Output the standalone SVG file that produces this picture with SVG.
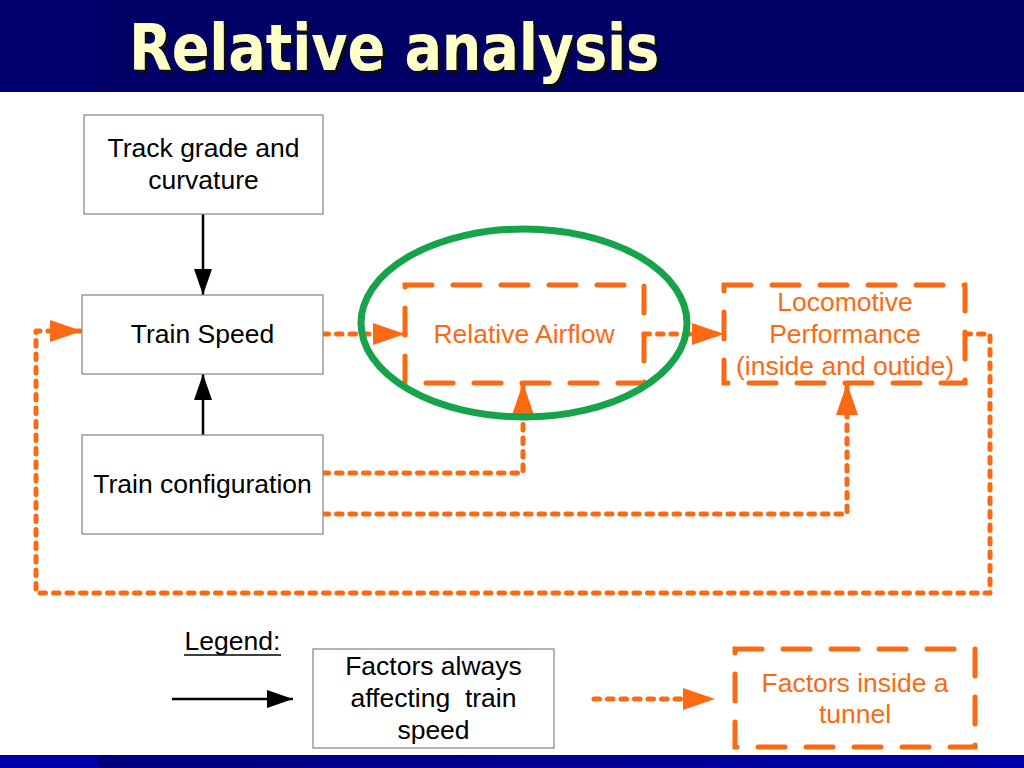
<svg xmlns="http://www.w3.org/2000/svg" width="1024" height="768" viewBox="0 0 1024 768">
<defs>
<style>
.box{fill:#fff;stroke:#8c8c8c;stroke-width:1.3}
.t{font-family:"Liberation Sans",Arial,sans-serif;font-size:26.5px;text-anchor:middle;fill:#000}
.o{fill:#fb6a12}
.dash{fill:none;stroke:#fb6a12;stroke-width:5;stroke-dasharray:27 21;stroke-linecap:round}
.dot{fill:none;stroke:#fb6a12;stroke-width:5;stroke-dasharray:5.5 8;stroke-linecap:round;stroke-linejoin:round}
.solid{fill:none;stroke:#000;stroke-width:2.5}
</style>
<marker id="ao" markerUnits="userSpaceOnUse" markerWidth="34" markerHeight="24" refX="32" refY="11" orient="auto" viewBox="0 0 34 24">
<path d="M0,0 L32,11 L0,22 z" fill="#fb6a12"/>
</marker>
<marker id="ab" markerUnits="userSpaceOnUse" markerWidth="28" markerHeight="20" refX="26" refY="9" orient="auto" viewBox="0 0 28 20">
<path d="M0,0 L26,9 L0,18 z" fill="#000"/>
</marker>
<linearGradient id="foot" x1="0" y1="0" x2="1" y2="0">
<stop offset="0" stop-color="#00007a"/>
<stop offset="1" stop-color="#0000a8"/>
</linearGradient>
<filter id="shadow" x="-5%" y="-20%" width="110%" height="140%">
<feDropShadow dx="3" dy="3" stdDeviation="0.6" flood-color="#111111" flood-opacity="1"/>
</filter>
</defs>
<rect width="1024" height="768" fill="#fff"/>
<g id="header">
<rect x="0" y="0" width="1024" height="92" fill="#000066"/>
<rect x="0" y="0" width="98" height="92" fill="#00006e"/>
<text x="129" y="70" font-family="'DejaVu Sans',Verdana,sans-serif" font-weight="bold" font-size="64" fill="#ffffc8" textLength="530" lengthAdjust="spacingAndGlyphs" filter="url(#shadow)">Relative analysis</text>
</g>
<g id="footer">
<rect x="0" y="755" width="1024" height="13" fill="url(#foot)"/>
<rect x="0" y="755" width="98" height="13" fill="#0000a8"/>
</g>
<g id="connectors">
<line class="solid" x1="203" y1="214" x2="203" y2="295" marker-end="url(#ab)"/>
<line class="solid" x1="203" y1="435" x2="203" y2="374" marker-end="url(#ab)"/>
<line class="dot" x1="323" y1="334" x2="405" y2="334" marker-end="url(#ao)"/>
<line class="dot" x1="644" y1="334" x2="724" y2="334" marker-end="url(#ao)"/>
<polyline class="dot" points="323,473 523,473 523,383" marker-end="url(#ao)"/>
<polyline class="dot" points="323,514 847,514 847,383" marker-end="url(#ao)"/>
<polyline class="dot" points="965,334 990,334 990,593 36,593 36,331 82,331" marker-end="url(#ao)"/>
<line class="solid" x1="172" y1="699" x2="293" y2="699" marker-end="url(#ab)"/>
<line class="dot" x1="594" y1="699" x2="715" y2="699" marker-end="url(#ao)"/>
</g>
<g id="track">
<rect class="box" x="84" y="115" width="239" height="99"/>
<text class="t" x="203.5" y="157">Track grade and</text>
<text class="t" x="203.5" y="189">curvature</text>
</g>
<g id="speed">
<rect class="box" x="82" y="295" width="241" height="79"/>
<text class="t" x="202.5" y="343">Train Speed</text>
</g>
<g id="config">
<rect class="box" x="82" y="435" width="241" height="99"/>
<text class="t" x="202.5" y="493">Train configuration</text>
</g>
<g id="airflow">
<rect class="dash" x="405" y="285" width="239" height="98"/>
<text class="t o" x="524" y="343">Relative Airflow</text>
</g>
<g id="highlight">
<ellipse cx="524" cy="323" rx="163" ry="94" fill="none" stroke="#16a34a" stroke-width="7"/>
</g>
<g id="loco">
<rect class="dash" x="724" y="285" width="241" height="98"/>
<text class="t o" x="845" y="311">Locomotive</text>
<text class="t o" x="845" y="343">Performance</text>
<text class="t o" x="845" y="375">(inside and outide)</text>
</g>
<g id="legend">
<text class="t" x="232.5" y="650">Legend:</text>
<line x1="184" y1="655" x2="281" y2="655" stroke="#000" stroke-width="1.5"/>
</g>
<g id="legend-always">
<rect class="box" x="313" y="649" width="241" height="99"/>
<text class="t" x="433.5" y="675">Factors always</text>
<text class="t" x="433.5" y="707" xml:space="preserve" style="white-space:pre">affecting  train</text>
<text class="t" x="433.5" y="739">speed</text>
</g>
<g id="legend-tunnel">
<rect class="dash" x="735" y="649" width="240" height="98"/>
<text class="t o" x="855" y="692">Factors inside a</text>
<text class="t o" x="855" y="723">tunnel</text>
</g>
</svg>
